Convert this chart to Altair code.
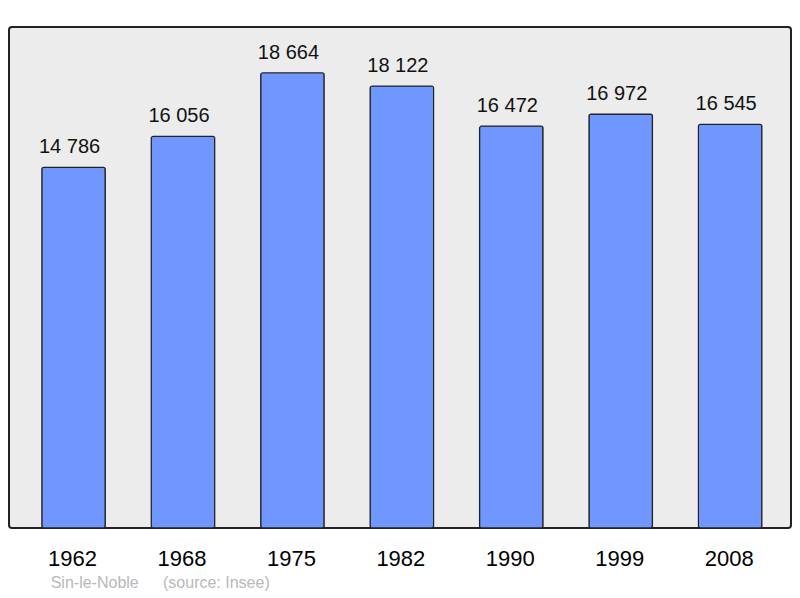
import altair as alt
import pandas as pd

years = ["1962", "1968", "1975", "1982", "1990", "1999", "2008"]
population = [14786, 16056, 18664, 18122, 16472, 16972, 16545]
commune = "Sin-le-Noble"
source = "(source: Insee)"

labels = [f"{v:,}".replace(",", " ") for v in population]
df = pd.DataFrame({"year": years, "pop": population, "label": labels})

FONT = "Liberation Sans"

x = alt.X("year:N", sort=years,
          scale=alt.Scale(paddingInner=0.42, paddingOuter=0.283, align=0.53),
          axis=alt.Axis(title=None, labelAngle=0, ticks=False, domain=False,
                        labelFont=FONT, labelFontSize=22, labelColor="#000000",
                        labelBaseline="alphabetic", labelPadding=37, labelOffset=-1))
y = alt.Y("pop:Q", scale=alt.Scale(domain=[0, 20540], nice=False, zero=True), axis=None)

base = alt.Chart(df)

bars = base.mark_bar(color="#7096ff", stroke="#222222", strokeWidth=1.2,
                     cornerRadius=2).encode(x=x, y=y)

values = base.mark_text(font=FONT, fontSize=20, color="#111111",
                        baseline="alphabetic", dy=-14, dx=-4).encode(
    x=x, y=y, text="label:N")

foot1 = alt.Chart(pd.DataFrame({"t": [commune]})).mark_text(
    font=FONT, fontSize=16, color="#b8b8b8", align="left", baseline="alphabetic"
).encode(x=alt.value(41.7), y=alt.value(561), text="t:N")
foot2 = alt.Chart(pd.DataFrame({"t": [source]})).mark_text(
    font=FONT, fontSize=16, color="#b8b8b8", align="left", baseline="alphabetic"
).encode(x=alt.value(154), y=alt.value(561), text="t:N")

chart = alt.layer(bars, values, foot1, foot2).properties(
    width=782, height=501,
    autosize="none",
    padding={"left": 1, "top": 19, "right": 1, "bottom": 66},
).configure_view(
    fill="#ececec", stroke="#222222", strokeWidth=2, cornerRadius=3
)

chart.save("out.html", embed_options={"renderer": "svg", "actions": False})
